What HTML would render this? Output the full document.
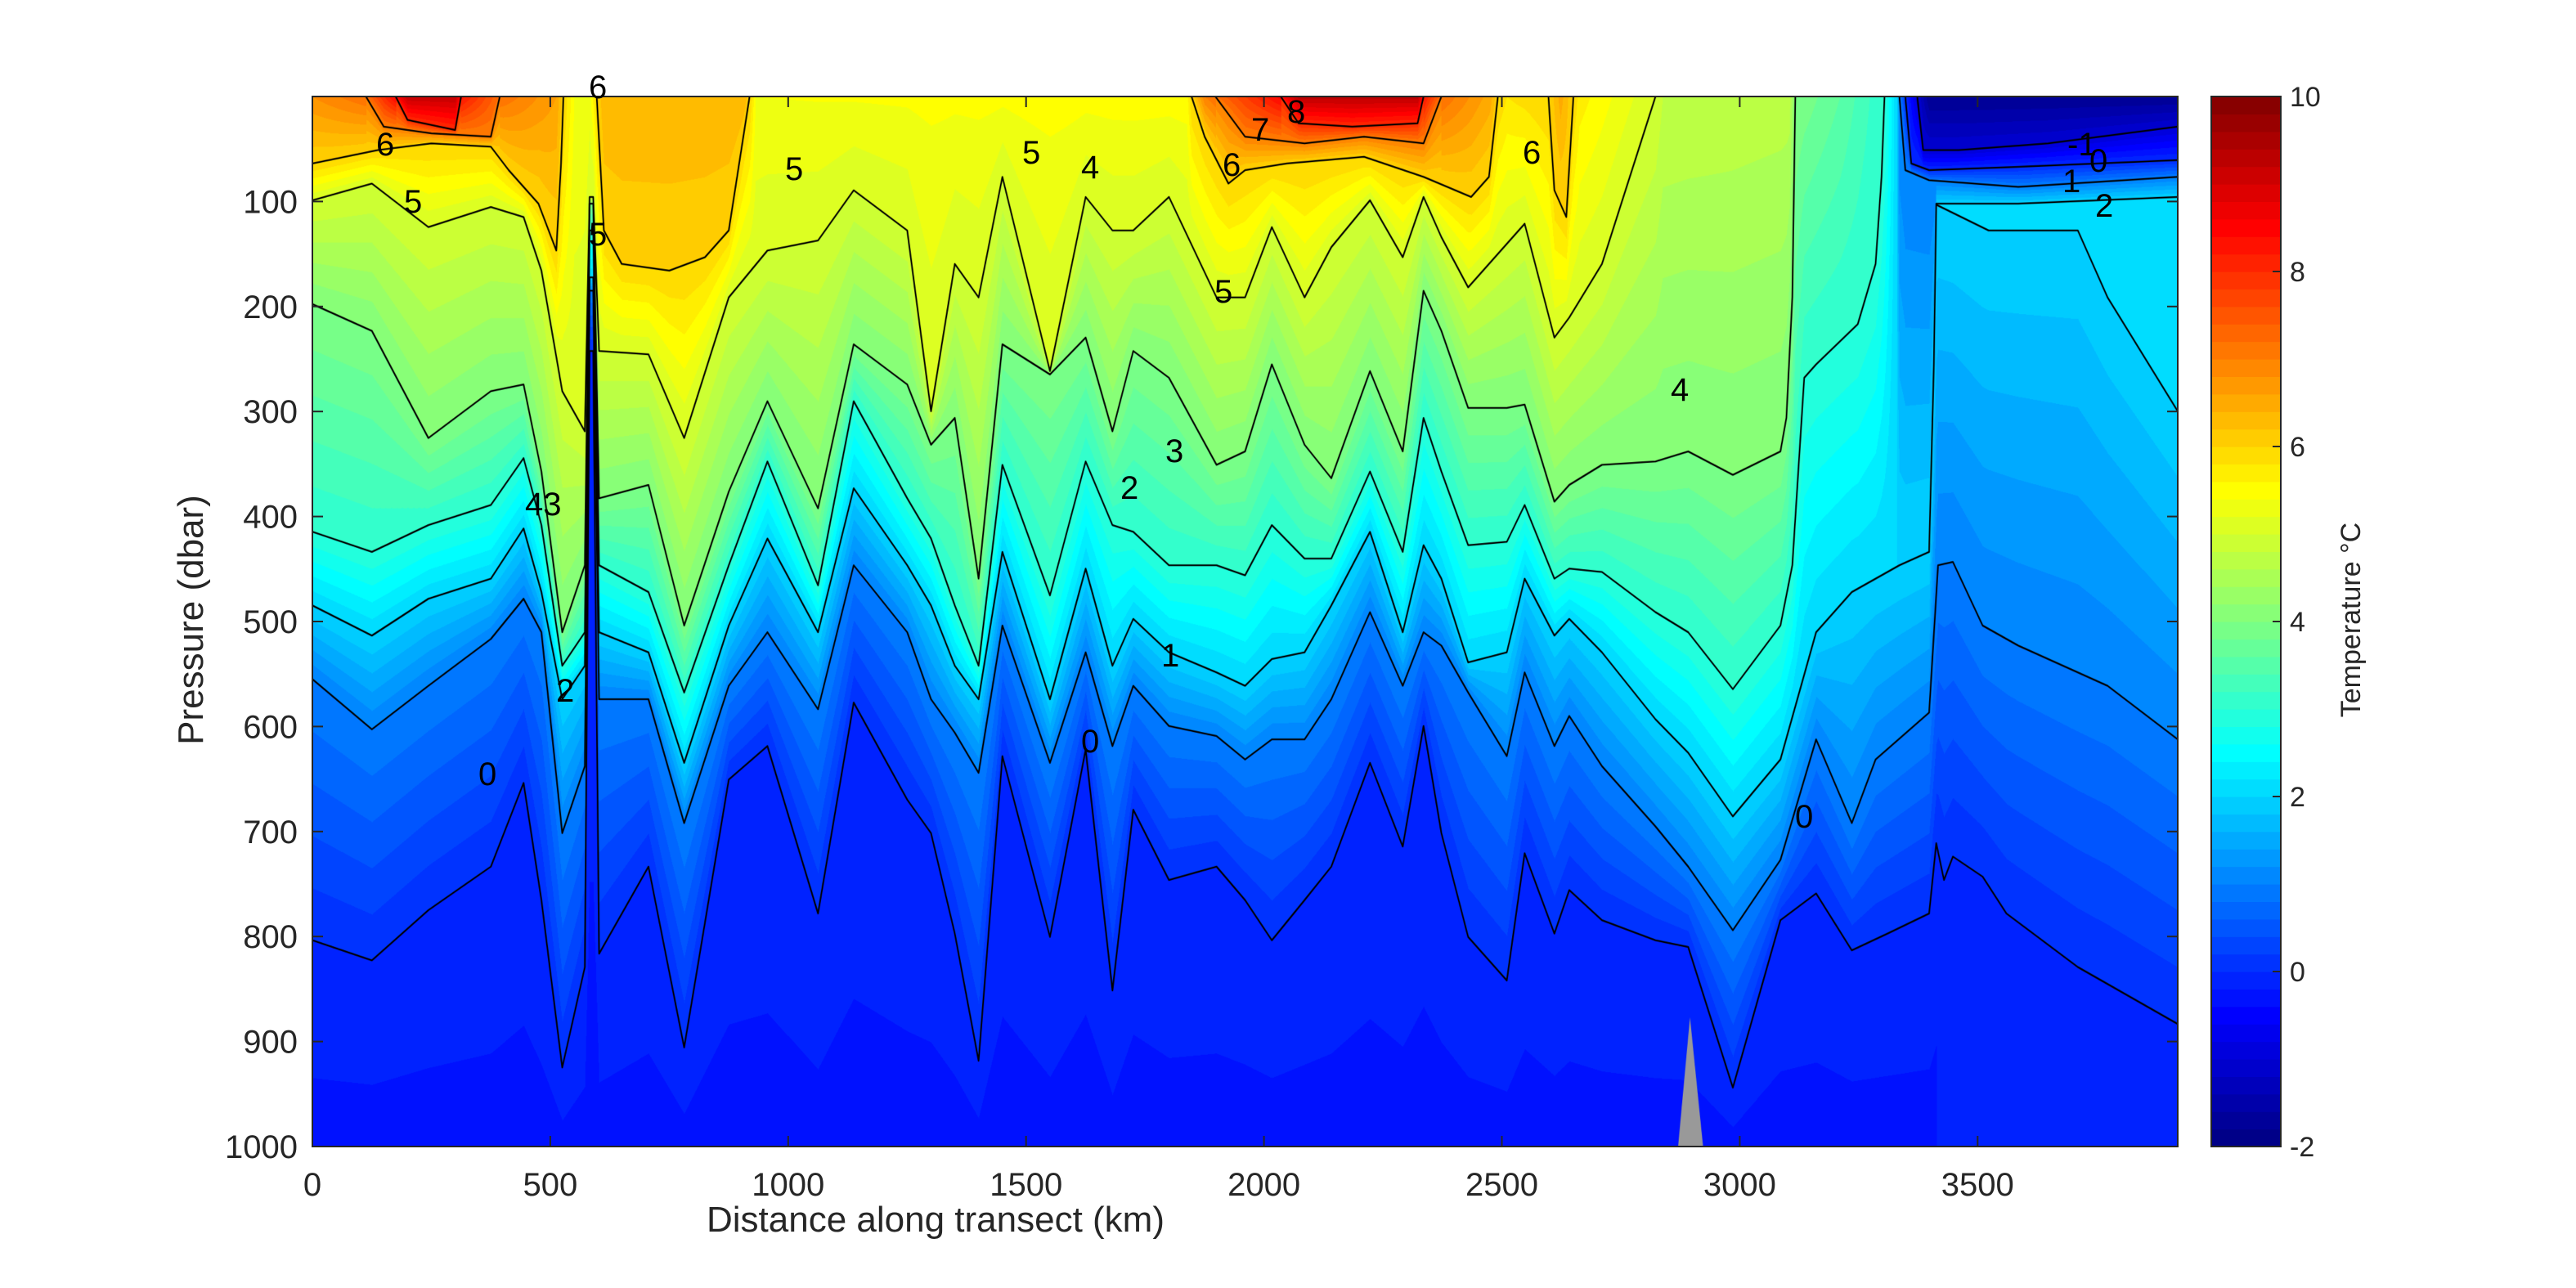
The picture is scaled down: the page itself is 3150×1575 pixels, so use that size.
<!DOCTYPE html>
<html><head><meta charset="utf-8">
<style>
html,body{margin:0;padding:0;background:#fff;}
#wrap{position:relative;width:3150px;height:1575px;overflow:hidden;background:#fff;}
#cv{position:absolute;left:382px;top:118px;width:2281px;height:1284px;}
#ov{position:absolute;left:0;top:0;}
text{font-family:"Liberation Sans",Arial,sans-serif;fill:#262626;}
</style></head>
<body><div id="wrap">
<canvas id="cv" width="3136" height="1568"></canvas>
<svg id="ov" width="3150" height="1575" viewBox="0 0 3150 1575">
<g id="cbar"></g>
<g id="axes"></g>
<g font-size="40" fill="#000">
<text x="460" y="190" style="fill:#000">6</text>
<text x="494" y="260" style="fill:#000">5</text>
<text x="720" y="120" style="fill:#000">6</text>
<text x="720" y="300" style="fill:#000">5</text>
<text x="960" y="220" style="fill:#000">5</text>
<text x="642" y="630" style="fill:#000">43</text>
<text x="680" y="858" style="fill:#000">2</text>
<text x="585" y="960" style="fill:#000">0</text>
<text x="1250" y="200" style="fill:#000">5</text>
<text x="1322" y="218" style="fill:#000">4</text>
<text x="1495" y="215" style="fill:#000">6</text>
<text x="1485" y="370" style="fill:#000">5</text>
<text x="1425" y="565" style="fill:#000">3</text>
<text x="1370" y="610" style="fill:#000">2</text>
<text x="1420" y="815" style="fill:#000">1</text>
<text x="1322" y="920" style="fill:#000">0</text>
<text x="1530" y="172" style="fill:#000">7</text>
<text x="1574" y="150" style="fill:#000">8</text>
<text x="1862" y="200" style="fill:#000">6</text>
<text x="2043" y="490" style="fill:#000">4</text>
<text x="2195" y="1012" style="fill:#000">0</text>
<text x="2528" y="190" style="fill:#000">-1</text>
<text x="2555" y="210" style="fill:#000">0</text>
<text x="2522" y="235" style="fill:#000">1</text>
<text x="2562" y="265" style="fill:#000">2</text>
</g>
<text x="1144" y="1506" font-size="44" text-anchor="middle">Distance along transect (km)</text>
<text transform="translate(248,758) rotate(-90)" font-size="44" text-anchor="middle">Pressure (dbar)</text>
<text transform="translate(2886,758) rotate(-90)" font-size="34" text-anchor="middle">Temperature °C</text>
</svg>
</div>
<script>
function jet(t){t=Math.max(0,Math.min(1,t));
 const c=v=>Math.max(0,Math.min(1,v));
 return [c(1.5-Math.abs(4*t-3)),c(1.5-Math.abs(4*t-2)),c(1.5-Math.abs(4*t-1))];}
function q(T){let s=Math.floor((T+2)/0.2);if(s>59)s=59;if(s<0)s=0;return -2+(s+0.5)*0.2;}
const rows=[
[0,155,310,650,760,870,1260],[100,130,350,680,805,945,1290],[195,195,510,640,750,880,1215],
[300,165,440,610,720,810,1150],[355,180,430,540,645,750,1025],[385,260,560,640,740,800,1200],
[420,440,800,850,900,1100,1450],[458,500,700,800,850,1000,1300],[466,150,160,200,270,290,380],
[472,150,160,200,270,290,380],[482,380,600,700,800,900,1280],[565,385,580,740,830,900,1150],
[625,510,790,890,995,1085,1420],[700,300,590,700,790,880,1020],[765,230,455,545,660,800,970],
[850,215,615,730,800,915,1220],[910,140,370,455,585,700,905],[1000,200,430,600,700,800,1050],
[1040,470,520,660,760,900,1100],[1080,250,480,760,850,950,1250],[1120,300,720,850,900,1010,1440],
[1160,120,370,550,680,790,985],[1240,410,415,745,900,995,1255],[1300,150,360,545,705,830,975],
[1345,200,500,640,850,970,1335],[1380,200,380,650,780,880,1065],[1440,150,420,700,830,940,1170],
[1520,300,550,700,860,955,1150],[1568,300,530,715,880,990,1200],
[1613,195,400,640,840,960,1260],[1668,300,520,690,830,960,1200],[1713,225,570,690,760,900,1150],
[1778,155,410,560,650,770,995],[1833,240,530,680,800,880,1120],[1868,150,290,480,670,800,940],
[1898,210,350,560,720,820,1100],[1943,285,465,670,845,890,1255],[2008,220,465,665,830,985,1320],
[2038,190,460,610,720,860,1130],[2088,360,605,720,805,970,1250],[2113,330,580,705,780,925,1185],
[2168,250,550,710,830,1000,1230],[2258,0,545,770,930,1090,1260],[2313,null,530,800,980,1150,1270],
[2388,null,565,885,1075,1245,1480],[2468,null,530,790,990,1140,1230]];
const lines=[];const lv=[5,4,3,2,1,0];const main={};
for(let k=0;k<6;k++){const p=[];for(const r of rows){if(r[k+1]!==null)p.push([r[0],r[k+1]]);}main[lv[k]]=p;}
main[4].push([2478,480],[2488,300],[2493,0]);
main[3].push([2488,700],[2508,420],[2528,400],[2598,340],[2628,250],[2638,120],[2643,0]);
main[2].push([2528,800],[2588,740],[2628,720],[2668,700],[2718,680],[2726,400],[2730,160],[2868,160],[3136,150]);
main[1].push([2528,960],[2588,1085],[2628,990],[2718,920],[2733,700],[2758,695],[2808,790],[2868,820],[3018,880],[3136,960]);
main[0].push([2528,1190],[2588,1275],[2648,1250],[2718,1220],[2730,1115],[2743,1170],[2758,1135],[2808,1165],[2848,1220],[2968,1300],[3136,1385]);
for(const k of lv)lines.push({T:k,p:main[k]});
lines.push({T:6,p:[[0,100],[110,80],[200,70],[300,75],[330,110],[380,160],[410,230],[418,100],[422,0]]});
lines.push({T:6,p:[[478,0],[490,200],[520,250],[600,260],[660,240],[700,200],[735,0]]});
lines.push({T:6,p:[[1478,0],[1500,60],[1540,130],[1568,110],[1638,100],[1768,90],[1868,120],[1948,150],[1978,120],[1993,0]]});
lines.push({T:6,p:[[2078,0],[2088,140],[2108,180],[2120,0]]});
lines.push({T:7,p:[[90,0],[120,45],[200,55],[300,60],[315,0]]});
lines.push({T:7,p:[[1518,0],[1568,60],[1668,70],[1768,60],[1868,70],[1898,0]]});
lines.push({T:8,p:[[140,0],[160,35],[240,50],[250,0]]});
lines.push({T:8,p:[[1628,0],[1658,40],[1748,45],[1858,40],[1868,0]]});
lines.push({T:-1,p:[[2698,0],[2708,80],[2768,80],[2918,70],[3136,45]]});
lines.push({T:0,p:[[2678,0],[2688,100],[2718,110],[2868,105],[3136,95]]});
lines.push({T:1,p:[[2668,0],[2678,110],[2718,125],[2868,135],[3136,120]]});
lines.push({T:2,p:[[2731,162],[2818,200],[2968,200],[3018,300],[3136,470]]});
const surf=[[0,6.8],[90,7.2],[140,8.5],[160,9.2],[240,9.2],[250,8.3],[315,7.2],[410,6.6],[422,6],[440,5.4],[466,5.3],[478,6],[490,6.4],[725,6.4],[735,6],[745,5.4],[1470,5.5],[1478,6],[1500,7],[1518,7.2],[1628,8.5],[1658,9.3],[1858,9.3],[1868,8.3],[1898,7.2],[1980,6.5],[1993,6],[2008,5.8],[2078,6],[2098,6.5],[2120,6],[2130,5.7],[2258,5],[2270,4.8],[2483,4.7],[2493,4],[2568,3.6],[2643,3],[2663,2],[2668,1],[2678,0],[2698,-1],[2718,-1.8],[3136,-1.8]];
function ip(p,x){if(x<p[0][0]||x>p[p.length-1][0])return null;
 for(let i=0;i<p.length-1;i++){const a=p[i],b=p[i+1];if(x>=a[0]&&x<=b[0]){if(b[0]===a[0])return a[1];return a[1]+(b[1]-a[1])*(x-a[0])/(b[0]-a[0]);}}
 return p[p.length-1][1];}
const W=3136,H=1568;const cv=document.getElementById('cv');const ctx=cv.getContext('2d');
const img=ctx.createImageData(W,H);const d=img.data;
for(let x=0;x<W;x++){
 const pr=[[0,ip(surf,x)]];
 for(const L of lines){const v=ip(L.p,x);if(v!==null&&v>0)pr.push([v,L.T]);}
 pr.push([H,x>2730?-0.2:-0.3]);
 pr.sort((a,b)=>a[0]-b[0]);
 let j=0;
 for(let y=0;y<H;y++){
  while(j<pr.length-2&&y>pr[j+1][0])j++;
  const a=pr[j],b=pr[j+1];let T=b[0]>a[0]?a[1]+(b[1]-a[1])*(y-a[0])/(b[0]-a[0]):b[1];
  const c=jet((q(T)+2)/12);const o=(y*W+x)*4;
  d[o]=c[0]*255;d[o+1]=c[1]*255;d[o+2]=c[2]*255;d[o+3]=255;}
}
ctx.putImageData(img,0,0);
ctx.strokeStyle='#000';ctx.lineWidth=2.6;ctx.lineJoin='round';
for(const L of lines){ctx.beginPath();L.p.forEach((pt,i)=>{i?ctx.lineTo(pt[0],pt[1]):ctx.moveTo(pt[0],pt[1]);});ctx.stroke();}
ctx.fillStyle='#999';ctx.beginPath();ctx.moveTo(2296,1568);ctx.lineTo(2316,1375);ctx.lineTo(2338,1568);ctx.closePath();ctx.fill();
const NS='http://www.w3.org/2000/svg';
function el(t,a,par,txt){const e=document.createElementNS(NS,t);for(const k in a)e.setAttribute(k,a[k]);if(txt!==undefined)e.textContent=txt;par.appendChild(e);return e;}
const ax=document.getElementById('axes');
const L0=382,R0=2663,T0=118,B0=1402;
el('rect',{x:L0,y:T0,width:R0-L0,height:B0-T0,fill:'none',stroke:'#262626','stroke-width':2},ax);
for(let km=0;km<=3500;km+=500){const x=L0+km*0.5818;
 el('line',{x1:x,y1:B0,x2:x,y2:B0-13,stroke:'#262626','stroke-width':2},ax);
 el('line',{x1:x,y1:T0,x2:x,y2:T0+13,stroke:'#262626','stroke-width':2},ax);
 el('text',{x:x,y:1462,'font-size':40,'text-anchor':'middle'},ax,String(km));}
for(let p=100;p<=1000;p+=100){const y=T0+p*1.284;
 el('line',{x1:L0,y1:y,x2:L0+13,y2:y,stroke:'#262626','stroke-width':2},ax);
 el('line',{x1:R0,y1:y,x2:R0-13,y2:y,stroke:'#262626','stroke-width':2},ax);
 el('text',{x:364,y:y+14,'font-size':40,'text-anchor':'end'},ax,String(p));}
const cb=document.getElementById('cbar');
const cx=2704,cw=85;
for(let s=0;s<60;s++){const T=-2+(s+0.5)*0.2;const c=jet((T+2)/12);
 const y0=B0-(s+1)*(B0-T0)/60;
 el('rect',{x:cx,y:y0,width:cw,height:(B0-T0)/60+0.6,fill:`rgb(${Math.round(c[0]*255)},${Math.round(c[1]*255)},${Math.round(c[2]*255)})`},cb);}
el('rect',{x:cx,y:T0,width:cw,height:B0-T0,fill:'none',stroke:'#262626','stroke-width':2},cb);
for(let T=-2;T<=10;T+=2){const y=B0-(T+2)*(B0-T0)/12;
 el('line',{x1:cx+cw,y1:y,x2:cx+cw-10,y2:y,stroke:'#262626','stroke-width':2},cb);
 el('text',{x:2800,y:y+12,'font-size':34},cb,String(T));}
</script>
</body></html>
